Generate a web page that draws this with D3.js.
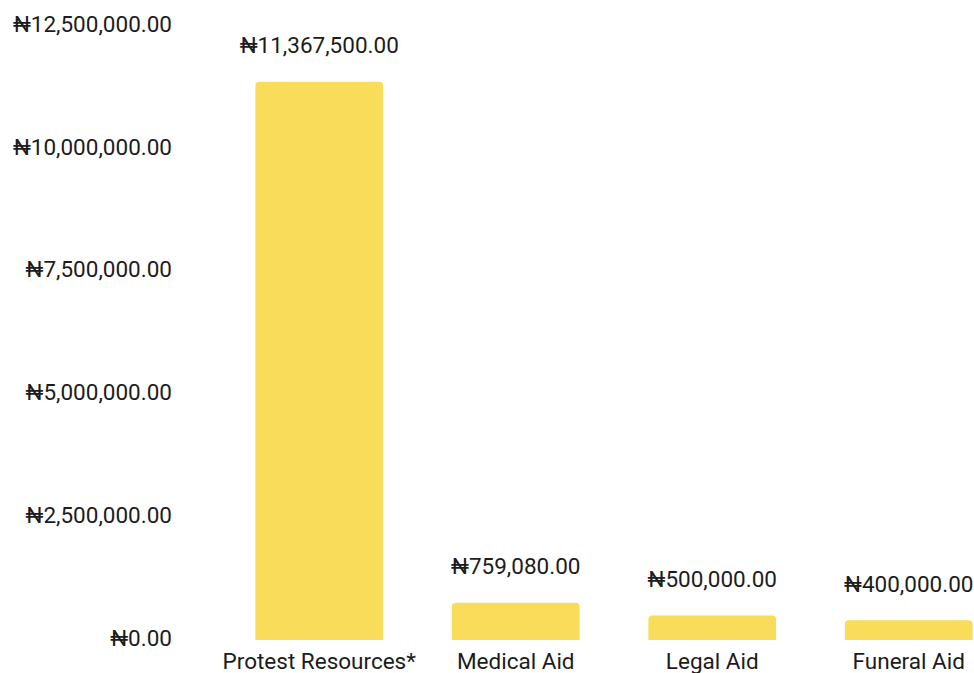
<!DOCTYPE html>
<html>
<head>
<meta charset="utf-8">
<script src="https://cdn.jsdelivr.net/npm/d3@7"></script>
<style>
  html, body { margin: 0; padding: 0; background: #fff; }
  svg { display: block; font-family: Roboto, "Noto Sans", sans-serif; }
</style>
</head>
<body>
<div id="chart"></div>
<script>
// funds spent by category (naira)
const categories = ["Protest Resources*", "Medical Aid", "Legal Aid", "Funeral Aid"];
const amounts = [11367500, 759080, 500000, 400000];
const yTicks = [0, 2500000, 5000000, 7500000, 10000000, 12500000];

const W = 974, H = 673;
const barColor = "#f9dc5a";
const textColor = "#1c1c1c";
const fs = 22.5;

const svg = d3.select("#chart").append("svg").attr("width", W).attr("height", H);

const x = d3.scaleBand().domain(categories).range([221, 1007]).paddingInner(0.35).paddingOuter(0.175);
const y = d3.scaleLinear().domain([0, 12500000]).range([640, 26]);

const naira = v => "\u20A6" + d3.format(",.2f")(v);

// y axis: labels only
const gy = svg.append("g").attr("transform", "translate(172,-2)")
  .call(d3.axisLeft(y).tickValues(yTicks).tickFormat(naira).tickSize(0).tickPadding(0));
gy.select(".domain").remove();
gy.selectAll("text").attr("fill", textColor).attr("font-size", fs).attr("font-family", "Roboto, sans-serif");

// bars with rounded top corners
const r = 4;
const barPath = (x0, w, yTop, yBot) => {
  return `M${x0},${yBot}V${yTop + r}Q${x0},${yTop} ${x0 + r},${yTop}H${x0 + w - r}Q${x0 + w},${yTop} ${x0 + w},${yTop + r}V${yBot}Z`;
};
svg.append("g").selectAll("path").data(amounts).join("path")
  .attr("fill", barColor)
  .attr("d", (d, i) => barPath(x(categories[i]), x.bandwidth(), y(d), y(0)));

// value labels
svg.append("g").selectAll("text").data(amounts).join("text")
  .attr("x", (d, i) => x(categories[i]) + x.bandwidth() / 2)
  .attr("y", d => y(d) - 28.5)
  .attr("text-anchor", "middle")
  .attr("fill", textColor).attr("font-size", fs)
  .text(d => naira(d));

// category labels
const gx = svg.append("g").attr("transform", `translate(0,${y(0)})`)
  .call(d3.axisBottom(x).tickSize(0).tickPadding(0));
gx.select(".domain").remove();
gx.selectAll("text").attr("fill", textColor).attr("font-size", fs)
  .attr("font-family", "Roboto, sans-serif").attr("dy", "1.27em");
</script>
</body>
</html>
